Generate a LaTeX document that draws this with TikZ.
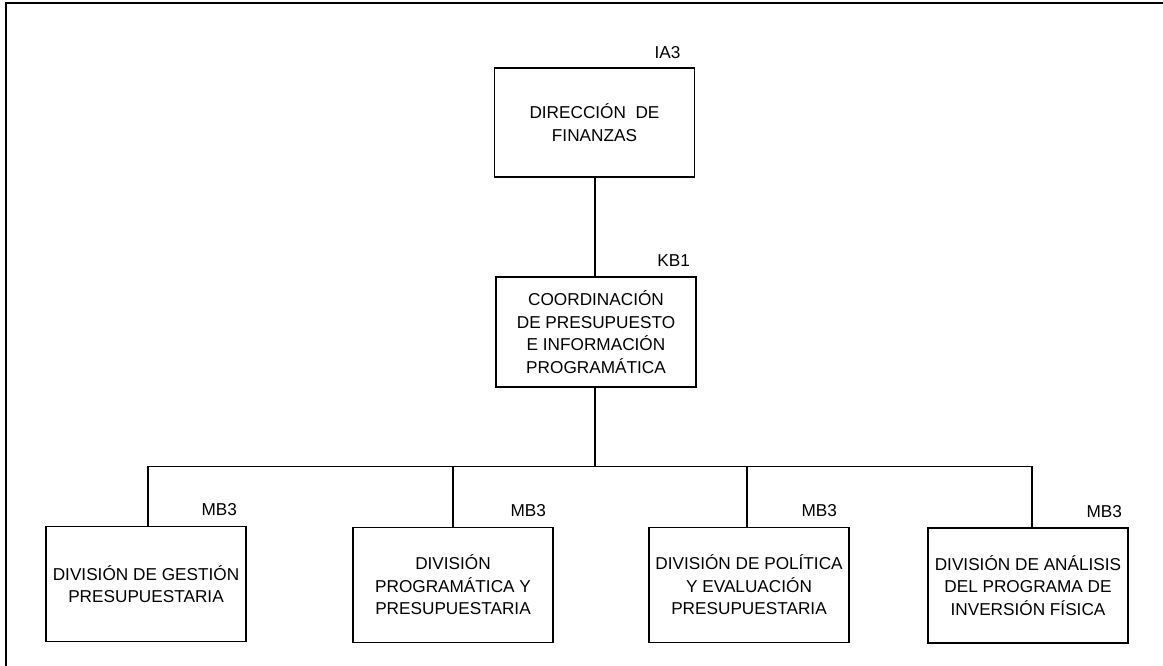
\documentclass[tikz,border=0pt]{standalone}
\usepackage{fontspec}
\setmainfont{Liberation Sans}
\usetikzlibrary{positioning,calc}

\begin{document}
\begin{tikzpicture}[x=1pt, y=-1pt, line width=1.6pt,
    unit/.style={draw, align=center, inner sep=0pt, minimum width=200pt,
        font=\fontsize{17.2}{22.5}\selectfont},
    tag/.style={inner sep=0pt, anchor=base east, font=\fontsize{17.2}{20}\selectfont}]
        \useasboundingbox (0,0) rectangle (1163,666);

        % frame
        \draw[line width=2.2pt] (6,666) -- (6,3) -- (1163,3);

        % Direccion (top)
        \node[unit, minimum height=109pt] (dir) at (594.5,122.5) {DIRECCIÓN\ \ DE\\FINANZAS};
        \node[tag] (dirtag) at ($(dir.north east)+(-14,-9)$) {IA3};

        % Coordinacion (middle)
        \node[unit, minimum height=110pt] (coord) at (596,332) {COORDINACIÓN\\DE PRESUPUESTO\\E INFORMACIÓN\\PROGRAMÁTICA};
        \node[tag] (coordtag) at ($(coord.north east)+(-6,-10)$) {KB1};

        % Divisiones (bottom)
        \node[unit, minimum height=115pt] (gest) at (146,584) {DIVISIÓN DE GESTIÓN\\PRESUPUESTARIA};
        \node[unit, minimum height=115pt] (prog) at (453,585) {DIVISIÓN\\PROGRAMÁTICA Y\\PRESUPUESTARIA};
        \node[unit, minimum height=115pt] (pol) at (749,585) {DIVISIÓN DE POLÍTICA\\Y EVALUACIÓN\\PRESUPUESTARIA};
        \node[unit, minimum height=115pt] (anal) at (1028,585.5) {DIVISIÓN DE ANÁLISIS\\DEL PROGRAMA DE\\INVERSIÓN FÍSICA};
        \node[tag] (gesttag) at ($(gest.north east)+(-9,-10)$) {MB3};
        \node[tag] (progtag) at ($(prog.north east)+(-7,-10)$) {MB3};
        \node[tag] (poltag) at ($(pol.north east)+(-12,-10)$) {MB3};
        \node[tag] (analtag) at ($(anal.north east)+(-6,-10)$) {MB3};

        % Lines
        \coordinate (bus) at (595,466.5);
        \draw (dir.south -| bus) -- (coord.north -| bus);
        \draw (coord.south -| bus) -- (bus);
        \draw (gest.north -| 148,0) -- (148,466.5) -- (1032,466.5) -- (anal.north -| 1032,0);
        \draw (prog.north) -- (prog.north |- bus);
        \draw (pol.north -| 747,0) -- (747,466.5);

    \end{tikzpicture}
\end{document}
